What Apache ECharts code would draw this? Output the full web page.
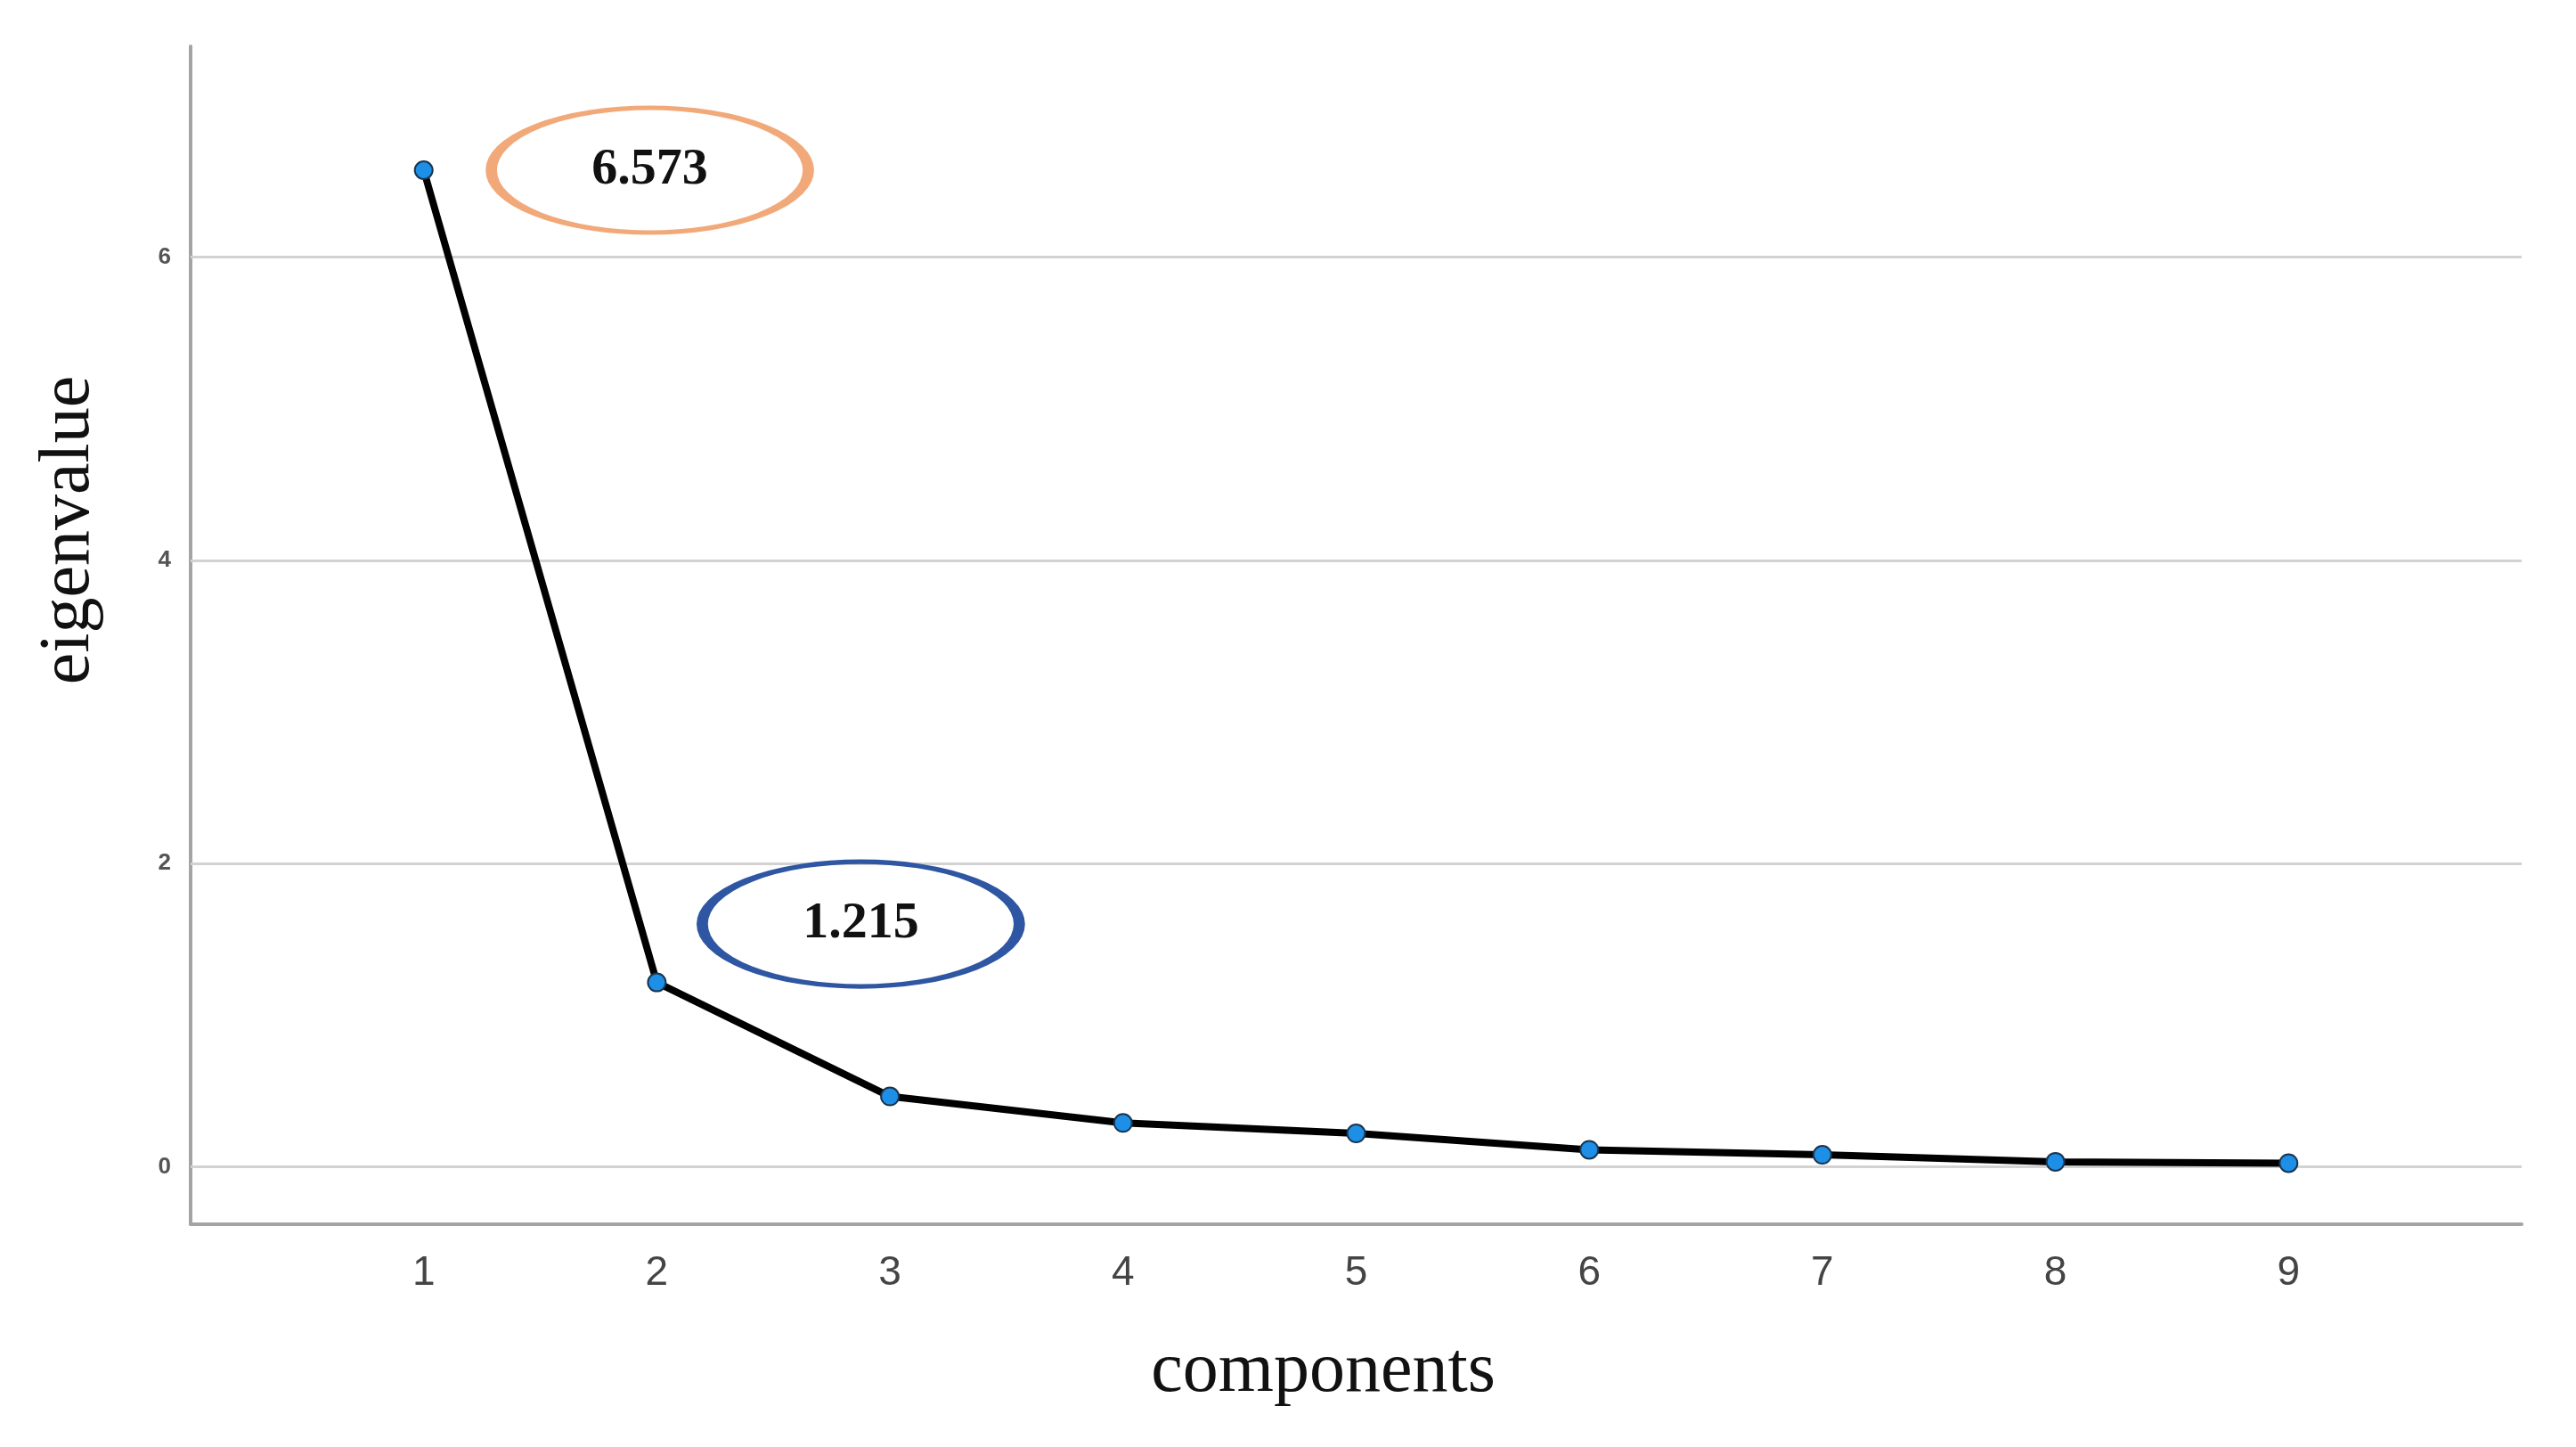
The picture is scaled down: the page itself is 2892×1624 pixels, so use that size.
<!DOCTYPE html>
<html>
<head>
<meta charset="utf-8">
<script src="https://cdn.jsdelivr.net/npm/echarts@6/dist/echarts.min.js"></script>
<style>
  html, body { margin: 0; padding: 0; background: #fff; }
  #chart { width: 2892px; height: 1624px; }
</style>
</head>
<body>
<div id="chart"></div>
<script>
// scree plot data
const components = [1, 2, 3, 4, 5, 6, 7, 8, 9]
const eigenvalues = [6.573, 1.215, 0.463, 0.288, 0.219, 0.111, 0.078, 0.032, 0.023]
const yTicks = [0, 2, 4, 6]

// callout labels (text + where the ellipse sits, in data units)
const calloutText = ['6.573', '1.215']
const calloutX = [1.97, 2.875]
const calloutY = [6.573, 1.6]
const calloutColor = ['#F2A97A', '#2E56A2']

const ellipsePath = 'path://M0,50 A100,50 0 1,1 200,50 A100,50 0 1,1 0,50 Z'

const chart = echarts.init(document.getElementById('chart'))

chart.setOption({
  backgroundColor: '#fff',
  animation: false,
  grid: {
    left: 214,
    right: 61,
    top: 52,
    bottom: 250
  },
  xAxis: {
    type: 'value',
    min: 0,
    max: 10,
    name: 'components',
    nameLocation: 'middle',
    nameGap: 126,
    nameTextStyle: {
      fontFamily: 'Liberation Serif',
      fontSize: 80,
      color: '#111',
      padding: [0, 74, 0, 0]
    },
    axisLine: {
      onZero: false,
      lineStyle: { color: '#a4a4a4', width: 4 }
    },
    axisTick: { show: false },
    splitLine: { show: false },
    axisLabel: {
      customValues: components,
      margin: 32,
      fontFamily: 'Liberation Sans',
      fontSize: 46,
      color: '#444'
    }
  },
  yAxis: {
    type: 'value',
    min: -0.38,
    max: 7.39,
    name: 'eigenvalue',
    nameLocation: 'middle',
    nameGap: 96,
    nameTextStyle: {
      fontFamily: 'Liberation Serif',
      fontSize: 80,
      color: '#111',
      padding: [0, 0, 0, 236]
    },
    axisLine: {
      show: true,
      lineStyle: { color: '#a4a4a4', width: 4 }
    },
    axisTick: { show: false },
    splitLine: { show: false },
    axisLabel: {
      customValues: yTicks,
      margin: 22,
      fontFamily: 'Liberation Sans',
      fontWeight: 'bold',
      fontSize: 26,
      color: '#555'
    }
  },
  series: [
    {
      type: 'line',
      data: components.map((c, i) => [c, eigenvalues[i]]),
      symbol: 'circle',
      symbolSize: 20,
      lineStyle: { color: '#000', width: 8 },
      itemStyle: {
        color: '#1E8FE6',
        borderColor: '#1a3550',
        borderWidth: 2
      },
      z: 3,
      markLine: {
        silent: true,
        symbol: 'none',
        label: { show: false },
        lineStyle: { color: '#d2d2d2', width: 3, type: 'solid' },
        data: yTicks.map(v => ({ yAxis: v })),
        z: 1
      },
      markPoint: {
        silent: true,
        data: calloutText.map((t, i) => ({
          coord: [calloutX[i], calloutY[i]],
          value: t,
          symbol: ellipsePath,
          symbolSize: [356, 140],
          itemStyle: {
            color: 'rgba(255,255,255,0)',
            borderColor: calloutColor[i],
            borderWidth: 8
          }
        })),
        label: {
          show: true,
          position: 'inside',
          formatter: p => p.value,
          fontFamily: 'Liberation Serif',
          fontWeight: 'bold',
          fontSize: 58,
          color: '#111'
        }
      }
    }
  ]
})

window.addEventListener('resize', () => {
  chart.resize()
})
</script>
</body>
</html>
